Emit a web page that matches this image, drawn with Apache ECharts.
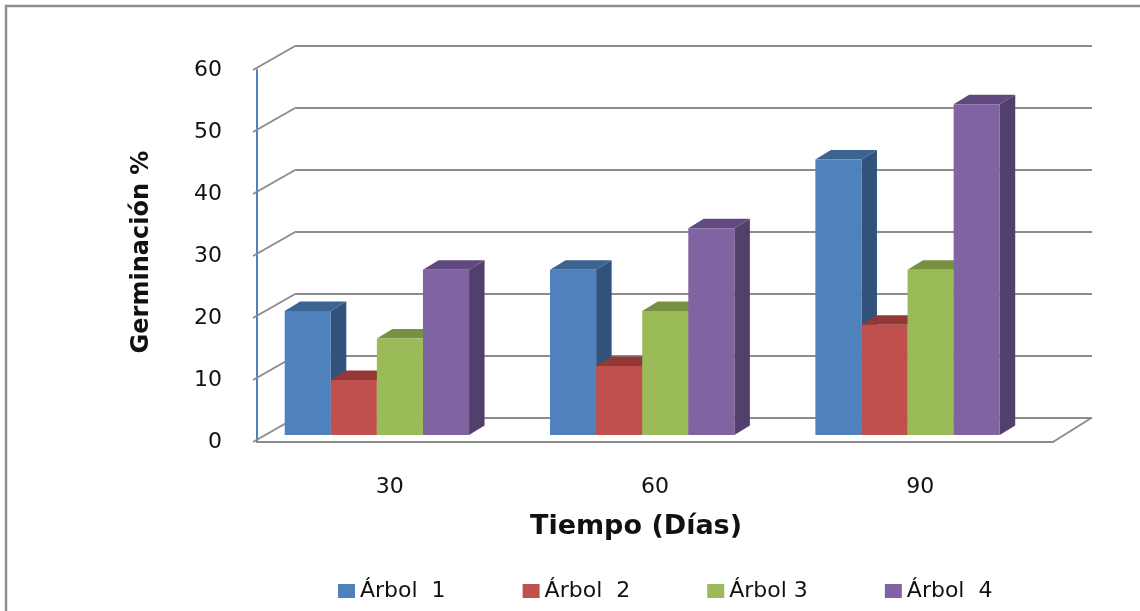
<!DOCTYPE html>
<html>
<head>
<meta charset="utf-8">
<script src="https://cdn.jsdelivr.net/npm/echarts@6/dist/echarts.min.js"></script>
<style>
  html, body { margin: 0; padding: 0; background: #ffffff; }
  #chart { width: 1140px; height: 611px; }
</style>
</head>
<body>
<div id="chart"></div>
<script>
// Germination (%) per tree after 30, 60 and 90 days
const categories = ['30', '60', '90'];
const seriesNames = ['Árbol  1', 'Árbol  2', 'Árbol 3', 'Árbol  4'];
const arbol1 = [20.0, 26.67, 44.44];
const arbol2 = [8.89, 11.11, 17.78];
const arbol3 = [15.56, 20.0, 26.67];
const arbol4 = [26.67, 33.33, 53.33];
const yTicks = [0, 10, 20, 30, 40, 50, 60];

const FONT = 'DejaVu Sans';
const FRONT = { left: 257, top: 70, width: 796, height: 372 };
const DX = 39, DY = 24.5;          // depth offset of the back wall
const LIFT = 7;                    // bars stand a little behind the front edge
const BDX = 15.5, BDY = 9.5;       // bar depth (top / side faces)
const GROUP_START = 0.1044;        // first bar offset inside a category band
const BAR_W = 0.1737;              // bar width as a fraction of the band
const GRID_COLOR = '#8c8c8c';

const FRONT_COLORS = ['#4F81BD', '#C0504D', '#9BBB59', '#8064A2'];
const TOP_COLORS = ['#3B6493', '#943836', '#76913F', '#61497F'];
const SIDE_COLORS = ['#31537B', '#8B3634', '#6C873A', '#523F6B'];

const valueSets = [arbol1, arbol2, arbol3, arbol4];

function barSeries(k) {
  return {
    type: 'custom',
    name: seriesNames[k],
    xAxisIndex: 0,
    yAxisIndex: 0,
    z: 3,
    silent: true,
    itemStyle: { color: FRONT_COLORS[k] },
    encode: { x: 0, y: 1 },
    data: valueSets[k].map((v, i) => [i, v]),
    renderItem(params, api) {
      const i = api.value(0);
      const v = api.value(1);
      const band = api.size([1, 0])[0];
      const base = api.coord([i, 0]);
      const top = api.coord([i, v]);
      const w = band * BAR_W;
      const x0 = base[0] - band / 2 + band * (GROUP_START + k * BAR_W);
      const yb = base[1] - LIFT;
      const yt = top[1] - LIFT;
      return {
        type: 'group',
        children: [
          {
            type: 'polygon',
            shape: { points: [[x0 + w, yt], [x0 + w + BDX, yt - BDY], [x0 + w + BDX, yb - BDY], [x0 + w, yb]] },
            style: { fill: SIDE_COLORS[k] }
          },
          {
            type: 'polygon',
            shape: { points: [[x0, yt], [x0 + w, yt], [x0 + w + BDX, yt - BDY], [x0 + BDX, yt - BDY]] },
            style: { fill: TOP_COLORS[k] }
          },
          {
            type: 'rect',
            shape: { x: x0, y: yt, width: w, height: yb - yt },
            style: { fill: FRONT_COLORS[k] }
          }
        ]
      };
    }
  };
}

// side wall gridlines and the right edge of the floor
const wallSeries = {
  type: 'custom',
  xAxisIndex: 0,
  yAxisIndex: 0,
  z: 1,
  silent: true,
  data: yTicks.map(v => [0, v]),
  encode: { x: 0, y: 1 },
  renderItem(params, api) {
    const cs = params.coordSys;
    const v = api.value(1);
    const y = api.coord([0, v])[1];
    const st = { stroke: GRID_COLOR, lineWidth: 2 };
    const children = [
      { type: 'line', shape: { x1: cs.x - 4, y1: y, x2: cs.x + DX, y2: y - DY }, style: st }
    ];
    if (v === 0) {
      children.push({
        type: 'line',
        shape: { x1: cs.x + cs.width, y1: y, x2: cs.x + cs.width + DX, y2: y - DY },
        style: st
      });
    }
    return { type: 'group', children };
  }
};

const chart = echarts.init(document.getElementById('chart'), null, { renderer: 'canvas' });

chart.setOption({
  animation: false,
  backgroundColor: '#ffffff',
  color: FRONT_COLORS,
  textStyle: { fontFamily: FONT },
  legend: {
    data: seriesNames,
    left: 333,
    top: 575,
    icon: 'rect',
    itemWidth: 17,
    itemHeight: 14,
    itemGap: 77,
    textStyle: { fontFamily: FONT, fontSize: 22, color: '#111' }
  },
  grid: [
    { left: FRONT.left, top: FRONT.top, width: FRONT.width, height: FRONT.height },
    { left: FRONT.left + DX, top: FRONT.top - DY, width: FRONT.width, height: FRONT.height }
  ],
  xAxis: [
    {
      gridIndex: 0,
      type: 'category',
      data: categories,
      axisLine: { lineStyle: { color: GRID_COLOR, width: 2 } },
      axisTick: { show: false },
      axisLabel: { margin: 34, fontFamily: FONT, fontSize: 22, color: '#111' },
      name: 'Tiempo (Días)',
      nameLocation: 'middle',
      nameGap: 71,
      nameTextStyle: {
        fontFamily: FONT, fontSize: 27, fontWeight: 'bold', color: '#111',
        padding: [0, 38, 0, 0]
      }
    },
    { gridIndex: 1, type: 'category', data: categories, show: false }
  ],
  yAxis: [
    {
      gridIndex: 0,
      type: 'value',
      min: 0,
      max: 60,
      interval: 10,
      axisLine: { show: true, lineStyle: { color: '#4F81BD', width: 2 } },
      axisTick: { show: false },
      splitLine: { show: false },
      axisLabel: { margin: 35, fontFamily: FONT, fontSize: 22, color: '#111' },
      name: 'Germinación %',
      nameLocation: 'middle',
      nameRotate: 90,
      nameGap: 103,
      nameTextStyle: {
        fontFamily: FONT, fontSize: 24, fontWeight: 'bold', color: '#111',
        padding: [0, 0, 0, 8]
      }
    },
    {
      gridIndex: 1,
      type: 'value',
      min: 0,
      max: 60,
      interval: 10,
      axisLine: { show: false },
      axisTick: { show: false },
      axisLabel: { show: false },
      splitLine: { show: true, lineStyle: { color: GRID_COLOR, width: 2 } }
    }
  ],
  graphic: [
    {
      type: 'rect',
      silent: true,
      shape: { x: 6, y: 6, width: 1300, height: 800 },
      style: { fill: null, stroke: '#8e8e8e', lineWidth: 2.5 }
    }
  ],
  series: [wallSeries, barSeries(0), barSeries(1), barSeries(2), barSeries(3)]
});
</script>
</body>
</html>
